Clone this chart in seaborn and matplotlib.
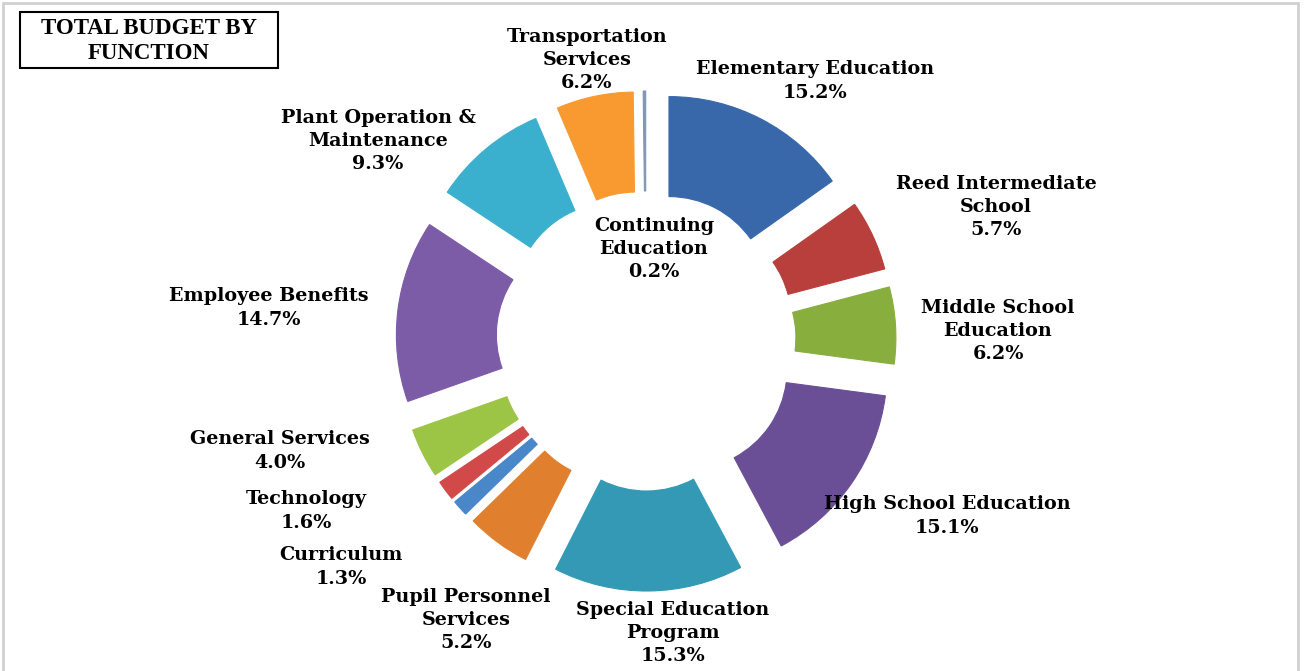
import matplotlib
matplotlib.use("Agg")
import matplotlib.pyplot as plt
from matplotlib.patches import Rectangle
import seaborn as sns

categories = ["Elementary Education", "Reed Intermediate\nSchool", "Middle School\nEducation",
              "High School Education", "Special Education\nProgram", "Pupil Personnel\nServices",
              "Curriculum", "Technology", "General Services", "Employee Benefits",
              "Plant Operation &\nMaintenance", "Transportation\nServices", "Continuing\nEducation"]
values = [15.2, 5.7, 6.2, 15.1, 15.3, 5.2, 1.3, 1.6, 4.0, 14.7, 9.3, 6.2, 0.2]
colors = ["#3868AA", "#B83F3B", "#88AE3E", "#6A4F96", "#3399B4", "#E0802E",
          "#4A87C9", "#D2494A", "#9CC545", "#7C5BA7", "#3BB0CE", "#F99A30", "#8196B2"]
# label anchor positions in pixels (x, y from top)
label_pos = [(815, 81), (996, 207), (998, 331), (947, 516), (673, 633), (466, 620),
             (341, 567), (306, 511), (280, 451), (269, 308), (378, 141), (587, 60), (654, 249)]

sns.set_theme(style="white")
plt.rcParams['font.family'] = ['DejaVu Serif']

W, H = 1304, 671
fig = plt.figure(figsize=(W / 100, H / 100), dpi=100)
ax = fig.add_axes([0, 0, 1, 1])

cx, cy = 646, H - 341
wedges, _ = ax.pie(values, colors=colors, startangle=90, counterclock=False, radius=200,
                   center=(cx, cy), explode=[50] * len(values),
                   wedgeprops=dict(width=100, linewidth=0.8))
for w, c in zip(wedges, colors):
    w.set_edgecolor(c)

for cat, v, (x, y) in zip(categories, values, label_pos):
    ax.text(x, H - y, f"{cat}\n{v:.1f}%", ha="center", va="center", fontsize=13.8,
            fontweight="bold", color="black", linespacing=1.37)

ax.set_xlim(0, W)
ax.set_ylim(0, H)
ax.set_aspect("equal")
ax.axis("off")

# title box
ax.add_patch(Rectangle((20, H - 68), 258, 56, fill=False, edgecolor="black", linewidth=1.5))
ax.text(149, H - 41, "TOTAL BUDGET BY\nFUNCTION", ha="center", va="center", fontsize=16.5,
        fontweight="bold", color="black", family=["Liberation Serif"], linespacing=1.2)

# outer frame
ax.add_patch(Rectangle((3, -10), 1295, H - 3 + 10, fill=False, edgecolor="#D0D0D0", linewidth=2))

fig.savefig("out.png", dpi=100)
